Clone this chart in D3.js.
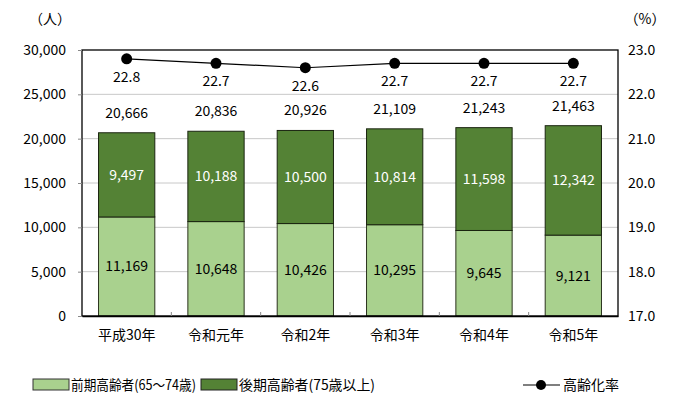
<!DOCTYPE html>
<html><head><meta charset="utf-8">
<script src="https://cdn.jsdelivr.net/npm/d3@7"></script>
<style>
body{margin:0;background:#fff;}
text{font-family:"Noto Sans CJK JP","Noto Sans",sans-serif;}
</style></head>
<body><svg id="c" width="700" height="405"></svg>
<script>
const categories = ["平成30年","令和元年","令和2年","令和3年","令和4年","令和5年"];
const early = [11169,10648,10426,10295,9645,9121];
const late = [9497,10188,10500,10814,11598,12342];
const totals = [20666,20836,20926,21109,21243,21463];
const rate = [22.8,22.7,22.6,22.7,22.7,22.7];
const leftTicks = [0,5000,10000,15000,20000,25000,30000];
const rightTicks = [17,18,19,20,21,22,23];
const seriesNames = ["前期高齢者(65～74歳)","後期高齢者(75歳以上)","高齢化率"];

const svg = d3.select("#c");
const L=82,R=618,T=50,B=316;
const x = d3.scaleBand().domain(categories).range([L,R]).paddingInner(0.37).paddingOuter(0.185);
const y = d3.scaleLinear().domain([0,30000]).range([B,T]);
const y2 = d3.scaleLinear().domain([17,23]).range([B,T]);
const light="#a9d18e", dark="#548235";

// gridlines
svg.append("g").selectAll("line").data(leftTicks.slice(1,-1)).join("line")
  .attr("x1",L).attr("x2",R).attr("y1",d=>y(d)).attr("y2",d=>y(d))
  .attr("stroke","#c8c8c8").attr("stroke-width",1);

// bars
const g = svg.append("g");
categories.forEach((c,i)=>{
  g.append("rect").attr("x",x(c)).attr("width",x.bandwidth())
   .attr("y",y(early[i])).attr("height",y(0)-y(early[i]))
   .attr("fill",light).attr("stroke","#2a331e").attr("stroke-width",1);
  g.append("rect").attr("x",x(c)).attr("width",x.bandwidth())
   .attr("y",y(early[i]+late[i])).attr("height",y(early[i])-y(early[i]+late[i]))
   .attr("fill",dark).attr("stroke","#1a2410").attr("stroke-width",1);
});

// frame
svg.append("rect").attr("x",L).attr("y",T).attr("width",R-L).attr("height",B-T)
  .attr("fill","none").attr("stroke","#000").attr("stroke-width",1.3);

// axes
const ax = svg.append("g").attr("transform",`translate(${L},0)`)
  .call(d3.axisLeft(y).tickValues(leftTicks).tickFormat(d3.format(",")).tickSize(4).tickPadding(12));
ax.select(".domain").remove();
ax.selectAll("text").attr("font-size",14).attr("fill","#000");
ax.selectAll("line").attr("stroke","#888");

const ax2 = svg.append("g").attr("transform",`translate(${R},0)`)
  .call(d3.axisRight(y2).tickValues(rightTicks).tickFormat(d3.format(".1f")).tickSize(0).tickPadding(10));
ax2.select(".domain").remove();
ax2.selectAll("text").attr("font-size",14).attr("fill","#000");

const bx = d3.scaleLinear().domain([0,categories.length]).range([L,R]);
const axb = svg.append("g").attr("transform",`translate(0,${B})`)
  .call(d3.axisBottom(x).tickSize(0).tickPadding(14));
axb.select(".domain").attr("stroke","#000").attr("stroke-width",1.6);
axb.selectAll("text").attr("font-size",14).attr("fill","#000");
svg.append("g").selectAll("line").data(d3.range(1,categories.length)).join("line")
  .attr("x1",d=>bx(d)).attr("x2",d=>bx(d)).attr("y1",B).attr("y2",B-4)
  .attr("stroke","#888");

// axis titles
svg.append("text").attr("x",50).attr("y",24).attr("text-anchor","middle").attr("font-size",14).text("（人）");
svg.append("text").attr("x",645).attr("y",24).attr("text-anchor","middle").attr("font-size",14).text("（%）");

// segment labels
const fmt = d3.format(",");
categories.forEach((c,i)=>{
  const cx = x(c)+x.bandwidth()/2;
  svg.append("text").attr("x",cx).attr("y",(y(0)+y(early[i]))/2+5).attr("text-anchor","middle")
    .attr("font-size",14).attr("fill","#000").text(fmt(early[i]));
  svg.append("text").attr("x",cx).attr("y",(y(early[i])+y(early[i]+late[i]))/2+5).attr("text-anchor","middle")
    .attr("font-size",14).attr("fill","#fff").text(fmt(late[i]));
  svg.append("text").attr("x",cx).attr("y",y(totals[i])-15).attr("text-anchor","middle")
    .attr("font-size",14).attr("fill","#000").text(fmt(totals[i]));
  svg.append("text").attr("x",cx).attr("y",y2(rate[i])+23).attr("text-anchor","middle")
    .attr("font-size",14).attr("fill","#000").text(rate[i].toFixed(1));
});

// line
const line = d3.line().x((d,i)=>x(categories[i])+x.bandwidth()/2).y(d=>y2(d));
svg.append("path").attr("d",line(rate)).attr("fill","none").attr("stroke","#000").attr("stroke-width",1.2);
svg.append("g").selectAll("circle").data(rate).join("circle")
  .attr("cx",(d,i)=>x(categories[i])+x.bandwidth()/2).attr("cy",d=>y2(d)).attr("r",5.5).attr("fill","#000");

// legend
const ly = 385;
svg.append("rect").attr("x",33).attr("y",ly-6).attr("width",36).attr("height",11).attr("fill",light).attr("stroke","#333");
svg.append("text").attr("x",71).attr("y",ly+5).attr("font-size",14)
  .attr("textLength",125).attr("lengthAdjust","spacingAndGlyphs").text(seriesNames[0]);
svg.append("rect").attr("x",201).attr("y",ly-6).attr("width",36).attr("height",11).attr("fill",dark).attr("stroke","#222");
svg.append("text").attr("x",239).attr("y",ly+5).attr("font-size",14)
  .attr("textLength",136).attr("lengthAdjust","spacingAndGlyphs").text(seriesNames[1]);
svg.append("line").attr("x1",523).attr("x2",560).attr("y1",ly).attr("y2",ly).attr("stroke","#000").attr("stroke-width",1.2);
svg.append("circle").attr("cx",541).attr("cy",ly).attr("r",5).attr("fill","#000");
svg.append("text").attr("x",563).attr("y",ly+5).attr("font-size",14).text(seriesNames[2]);
</script></body></html>
